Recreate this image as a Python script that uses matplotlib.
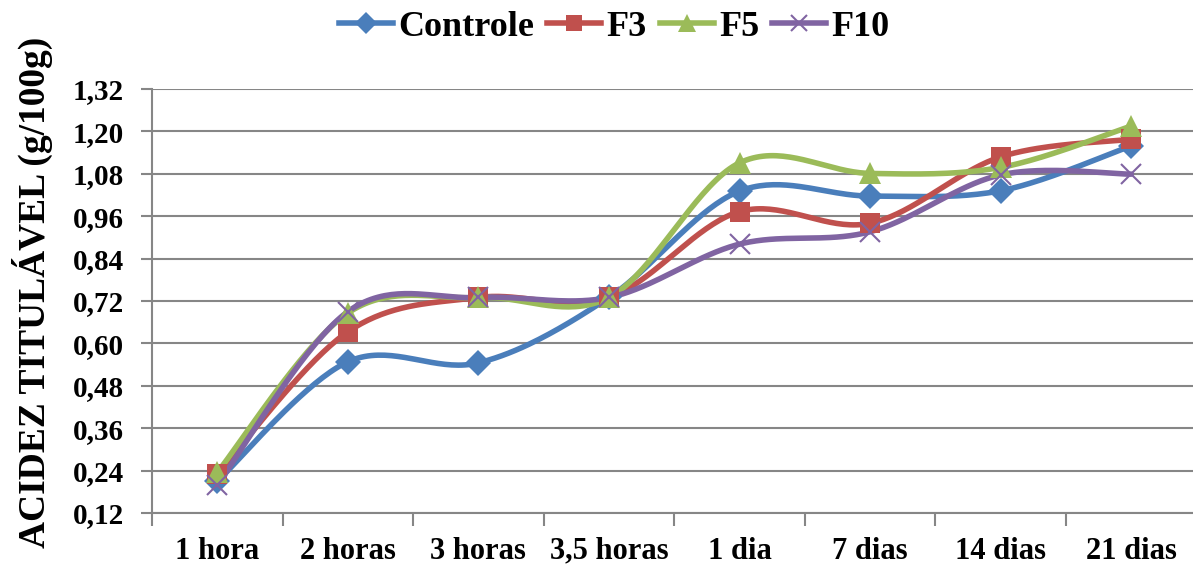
import numpy as np
import matplotlib
matplotlib.use("Agg")
import matplotlib.pyplot as plt

# ── Data ──────────────────────────────────────────────────────────────────────
categories = ["1 hora", "2 horas", "3 horas", "3,5 horas",
              "1 dia", "7 dias", "14 dias", "21 dias"]
controle = [0.21, 0.548, 0.545, 0.73, 1.031, 1.017, 1.032, 1.159]
f3       = [0.23, 0.633, 0.73, 0.73, 0.973, 0.940, 1.128, 1.178]
f5       = [0.235, 0.686, 0.73, 0.73, 1.111, 1.081, 1.098, 1.215]
f10      = [0.20, 0.690, 0.73, 0.73, 0.881, 0.916, 1.077, 1.079]
yticks   = [0.12, 0.24, 0.36, 0.48, 0.60, 0.72, 0.84, 0.96, 1.08, 1.20, 1.32]

SERIES = [
    ("Controle", controle, "#4A7EBB", "D", 13),
    ("F3",       f3,       "#C0504D", "s", 14),
    ("F5",       f5,       "#9BBB59", "^", 16),
    ("F10",      f10,      "#8064A2", "x", 14),
]

plt.rcParams.update({
    "font.family": ["Liberation Serif", "DejaVu Serif"],
    "font.weight": "bold",
})


def excel_smooth(y, n=40):
    """Bezier smoothing like Excel's 'smoothed line' (Catmull-Rom style)."""
    y = np.asarray(y, dtype=float)
    x = np.arange(len(y), dtype=float)
    pts = np.column_stack([x, y])
    ext = np.vstack([pts[0], pts, pts[-1]])
    t = np.linspace(0, 1, n)[:, None]
    out = []
    for i in range(len(pts) - 1):
        p0, p3 = ext[i + 1], ext[i + 2]
        c1 = p0 + (ext[i + 2] - ext[i]) / 6
        c2 = p3 - (ext[i + 3] - ext[i + 1]) / 6
        seg = ((1 - t) ** 3) * p0 + 3 * ((1 - t) ** 2) * t * c1 \
            + 3 * (1 - t) * t ** 2 * c2 + t ** 3 * p3
        out.append(seg if i == 0 else seg[1:])
    seg = np.vstack(out)
    return seg[:, 0], seg[:, 1]


fig = plt.figure(figsize=(11.93, 5.65), dpi=100)
ax = fig.add_axes([0.1274, 0.092, 0.8756, 0.7505])

x = np.arange(len(categories))
handles = []
for name, vals, color, marker, ms in SERIES:
    sx, sy = excel_smooth(vals)
    ax.plot(sx, sy, color=color, lw=4.0, solid_capstyle="round", zorder=3)
    if marker == "x":
        ax.plot(x, vals, ls="none", marker=marker, ms=ms, mew=1.5,
                color=color, zorder=4)
    else:
        ax.plot(x, vals, ls="none", marker=marker, ms=ms, mew=0,
                color=color, zorder=4)
    h, = ax.plot([], [], color=color, lw=4.0, marker=marker,
                 ms=ms * 0.85, mew=1.5 if marker == "x" else 0)
    handles.append(h)

ax.set_xlim(-0.5, len(categories) - 0.5)
ax.set_ylim(yticks[0], yticks[-1])
ax.set_yticks(yticks)
ax.set_yticklabels([f"{v:.2f}".replace(".", ",") for v in yticks], fontsize=21)
ax.set_xticks(x)
ax.set_xticklabels(categories, fontsize=22)
ax.set_xticks(np.arange(-0.5, len(categories)), minor=True)
ax.tick_params(axis="x", which="major", length=0, pad=17)
ax.tick_params(axis="x", which="minor", length=9, width=1.5, color="#868686")
ax.tick_params(axis="y", length=8, width=1.5, color="#868686", pad=12)

ax.grid(axis="y", color="#868686", lw=1.5)
ax.set_axisbelow(True)
for side in ("top", "right"):
    ax.spines[side].set_visible(False)
for side in ("left", "bottom"):
    ax.spines[side].set_color("#868686")
    ax.spines[side].set_linewidth(1.5)

fig.text(0.027, 0.483, "ACIDEZ TITULÁVEL (g/100g)", rotation=90,
         ha="center", va="center", fontsize=27, fontweight="bold")

fig.legend(handles, [s[0] for s in SERIES], loc="center",
           bbox_to_anchor=(0.515, 0.952), ncol=4, frameon=False,
           fontsize=26, handlelength=1.5, handletextpad=0.15,
           columnspacing=0.35)

fig.savefig("out.png", dpi=100)
